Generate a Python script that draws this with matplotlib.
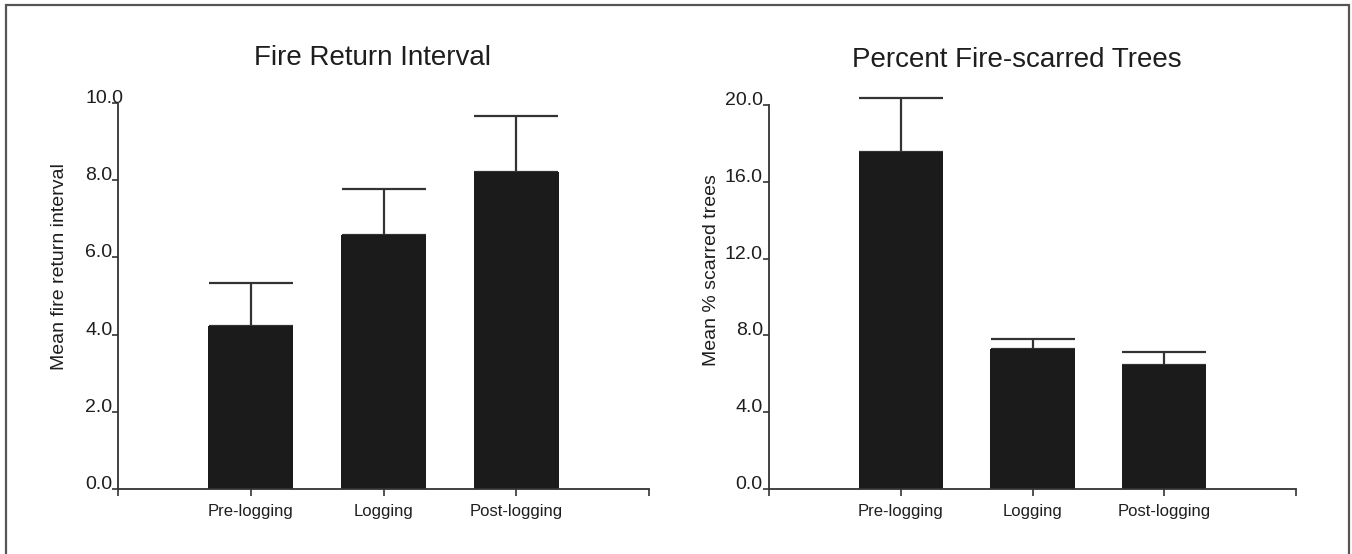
import matplotlib
matplotlib.use("Agg")
import matplotlib.pyplot as plt
from matplotlib.patches import Rectangle

plt.rcParams['font.family'] = ['Liberation Sans', 'DejaVu Sans']

# Mean values with standard error for each logging period
periods = ['Pre-logging', 'Logging', 'Post-logging']
fri_mean = [4.22, 6.58, 8.21]
fri_err = [1.12, 1.18, 1.45]
scar_mean = [17.55, 7.28, 6.46]
scar_err = [2.80, 0.52, 0.69]

fri_ticks = [0, 2, 4, 6, 8, 10]
scar_ticks = [0, 4, 8, 12, 16, 20]

bar_color = '#1b1b1b'
line_color = '#333333'
text_color = '#1e1e1e'

fig = plt.figure(figsize=(13.52, 5.54), dpi=100)

# thin border round the figure (open at the bottom)
fig.patches.append(Rectangle((6 / 1352, -0.05), 1343 / 1352, 1.05 - 5 / 554,
                             transform=fig.transFigure, fill=False,
                             edgecolor='#555555', linewidth=1.6))

ax1 = fig.add_axes([118 / 1352, 1 - 489 / 554, 531 / 1352, 386 / 554])
ax2 = fig.add_axes([769 / 1352, 1 - 489 / 554, 527 / 1352, 384 / 554])

x = [1, 2, 3]


def draw_panel(ax, means, errs, ticks, label_ha, label_pad):
    ax.bar(x, means, width=0.64, color=bar_color, zorder=2)
    ax.errorbar(x, means, yerr=[[0] * len(errs), errs], fmt='none',
                ecolor=line_color, elinewidth=1.6, capsize=30.5,
                capthick=1.6, clip_on=False, zorder=1)
    ax.set_xlim(0, 4)
    ax.set_ylim(ticks[0], ticks[-1])
    for side in ['top', 'right']:
        ax.spines[side].set_visible(False)
    for side in ['left', 'bottom']:
        ax.spines[side].set_color(line_color)
        ax.spines[side].set_linewidth(1.3)
    ax.set_xticks([0, 1, 2, 3, 4])
    ax.set_xticklabels([''] + periods + [''])
    ax.set_yticks(ticks)
    ax.set_yticklabels([f'{t:.1f}' for t in ticks])
    ax.tick_params(axis='x', direction='out', length=5, width=1.2,
                   color=line_color, labelsize=12, labelcolor=text_color, pad=6)
    ax.tick_params(axis='y', direction='out', length=4, width=1.2,
                   color=line_color, labelsize=14, labelcolor=text_color,
                   pad=label_pad)
    for lbl in ax.get_yticklabels():
        lbl.set_horizontalalignment(label_ha)
        lbl.set_verticalalignment('baseline')


draw_panel(ax1, fri_mean, fri_err, fri_ticks, 'left', 19.5)
draw_panel(ax2, scar_mean, scar_err, scar_ticks, 'right', 0.5)

# panel titles and axis labels
fig.text(372 / 1352, 1 - 65 / 554, 'Fire Return Interval', ha='center',
         va='baseline', fontsize=20, color=text_color)
fig.text(1017 / 1352, 1 - 67 / 554, 'Percent Fire-scarred Trees', ha='center',
         va='baseline', fontsize=20, color=text_color)
fig.text(60 / 1352, 1 - 267 / 554, 'Mean fire return interval', rotation=90,
         ha='center', va='center', fontsize=14, color=text_color)
fig.text(712 / 1352, 1 - 270 / 554, 'Mean % scarred trees', rotation=90,
         ha='center', va='center', fontsize=14, color=text_color)

fig.savefig('out.png', dpi=100, facecolor='white')
